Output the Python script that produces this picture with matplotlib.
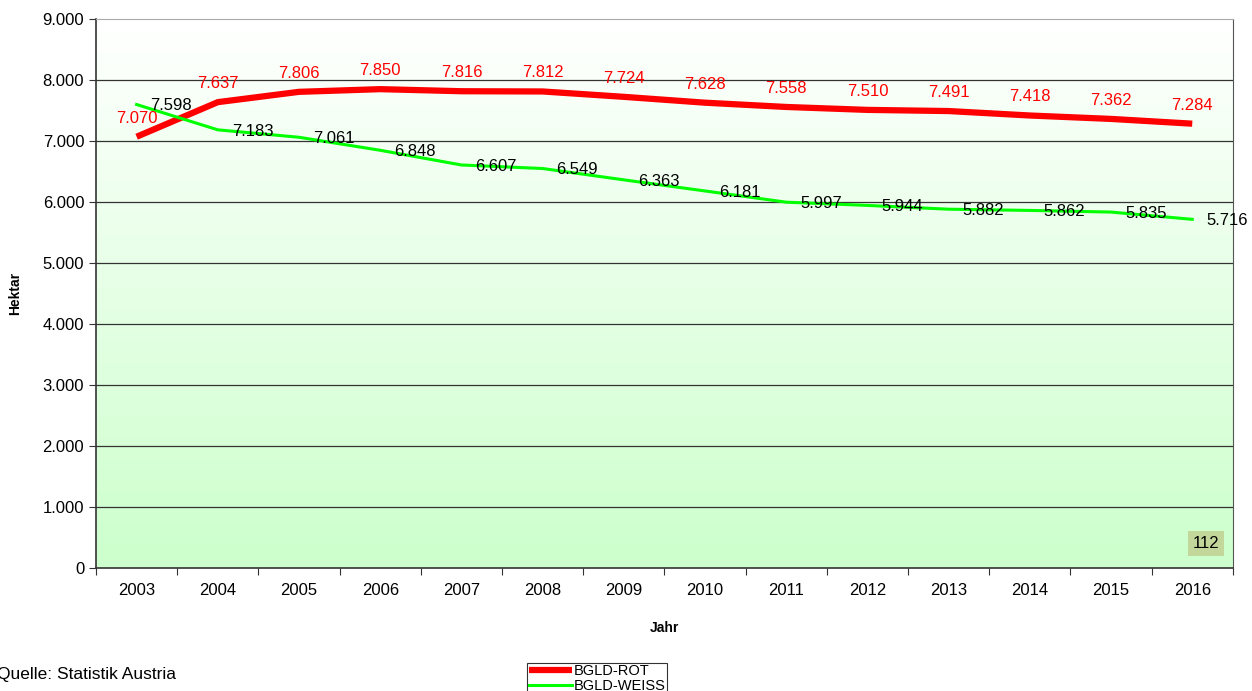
import numpy as np
import matplotlib
matplotlib.use('Agg')
import matplotlib.pyplot as plt
from matplotlib.colors import LinearSegmentedColormap

plt.rcParams['font.family'] = ['Liberation Sans', 'DejaVu Sans']

# Data
years = ['2003', '2004', '2005', '2006', '2007', '2008', '2009',
         '2010', '2011', '2012', '2013', '2014', '2015', '2016']
rot = [7070, 7637, 7806, 7850, 7816, 7812, 7724,
       7628, 7558, 7510, 7491, 7418, 7362, 7284]
weiss = [7598, 7183, 7061, 6848, 6607, 6549, 6363,
         6181, 5997, 5944, 5882, 5862, 5835, 5716]


def de_fmt(v):
    return f"{v:,.0f}".replace(',', '.')


fig = plt.figure(figsize=(12.52, 6.91), dpi=100)
ax = fig.add_axes([0.0767, 0.178, 0.908, 0.7945])

x = np.arange(len(years))
ax.set_xlim(-0.5, len(years) - 0.5)
ax.set_ylim(0, 9000)

# Background gradient (white -> light green)
cmap = LinearSegmentedColormap.from_list('bg', ['#ccffcc', '#ffffff'])
grad = np.linspace(0, 1, 256).reshape(-1, 1)
ax.imshow(grad, aspect='auto', cmap=cmap, origin='lower',
          extent=[-0.5, len(years) - 0.5, 0, 9000], zorder=0)

# Gridlines
for yv in range(1000, 9000, 1000):
    ax.axhline(yv, color='#333333', lw=0.9, zorder=1)

ax.plot(x, rot, color='#ff0000', lw=4.5, zorder=3, label='BGLD-ROT',
        solid_capstyle='butt')
ax.plot(x, weiss, color='#00ff00', lw=2.2, zorder=3, label='BGLD-WEISS')

for xi, v in zip(x, rot):
    ax.annotate(de_fmt(v), (xi, v), xytext=(0, 8), textcoords='offset points',
                ha='center', va='bottom', color='#ff0000', fontsize=12, zorder=4)
for xi, v in zip(x, weiss):
    ax.annotate(de_fmt(v), (xi, v), xytext=(10, -1), textcoords='offset points',
                ha='left', va='center', color='black', fontsize=12, zorder=4)

# Axes styling
ax.set_yticks(range(0, 9001, 1000))
ax.set_yticklabels([de_fmt(v) for v in range(0, 9001, 1000)], fontsize=12)
ax.set_xticks(np.arange(-0.5, len(years), 1.0))
ax.set_xticklabels([])
ax.set_xticks(x, minor=True)
ax.set_xticklabels(years, minor=True, fontsize=12)
ax.tick_params(axis='x', which='minor', length=0, pad=11)
ax.tick_params(axis='x', which='major', length=5, direction='out', color='#333333')
ax.tick_params(axis='y', length=5, direction='out', color='#333333')

ax.spines['left'].set_color('#333333')
ax.spines['bottom'].set_color('#333333')
ax.spines['right'].set_color('#555555')
ax.spines['top'].set_color('#aaaaaa')
ax.spines['left'].set_linewidth(1.2)
ax.spines['bottom'].set_linewidth(1.2)

ax.set_xlabel('Jahr', fontsize=10, fontweight='bold', labelpad=16)
ax.set_ylabel('Hektar', fontsize=10, fontweight='bold')
ax.yaxis.set_label_coords(-0.065, 0.5)

ax.text(0.988, 0.045, '112', transform=ax.transAxes, ha='right', va='center',
        fontsize=12, bbox=dict(boxstyle='square,pad=0.3', fc='#c4d79b', ec='none'),
        zorder=5)

fig.text(-0.002, 0.024, 'Quelle: Statistik Austria', fontsize=12.5, ha='left', va='center')

leg = fig.legend(loc='lower left', bbox_to_anchor=(0.421, -0.005), fontsize=10.5,
                 frameon=True, fancybox=False, edgecolor='black', handlelength=3,
                 handletextpad=0.1, borderpad=0.1, labelspacing=0.05,
                 borderaxespad=0)
leg.get_frame().set_linewidth(0.8)

fig.savefig('out.png', dpi=100)
